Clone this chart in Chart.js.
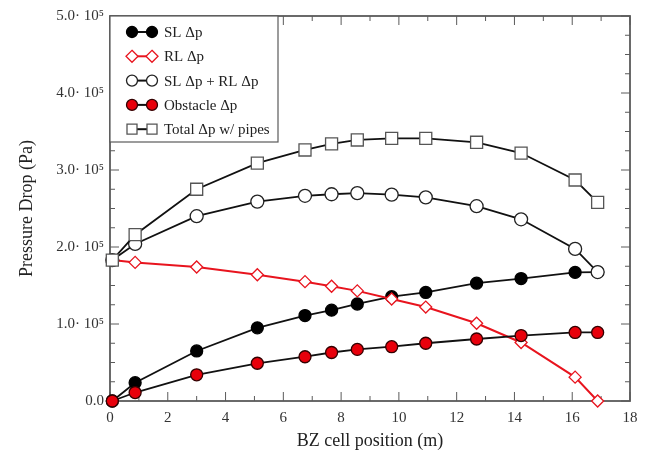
<!DOCTYPE html>
<html>
<head>
<meta charset="utf-8">
<script src="https://cdn.jsdelivr.net/npm/chart.js@4.4.0/dist/chart.umd.min.js"></script>
<style>
  html, body { margin: 0; padding: 0; background: #fff; }
  #wrap { width: 666px; height: 463px; position: relative; }
</style>
</head>
<body>
<div id="wrap"><canvas id="chart" width="666" height="463"></canvas></div>
<script>
// BZ cell positions (m) and pressure drops (Pa)
const positions  = [0.08, 0.87, 3.0, 5.1, 6.75, 7.67, 8.56, 9.75, 10.93, 12.69, 14.23, 16.1, 16.88];
const slDp       = [0, 23800, 65000, 95000, 111000, 118000, 126000, 135500, 141000, 153000, 159000, 167000, 167500];
const rlDp       = [183000, 180000, 174000, 164000, 155000, 149000, 143000, 132500, 122000, 101000, 76000, 31000, 0];
const slRlDp     = [183000, 204000, 240000, 259000, 266500, 268500, 270000, 268000, 264500, 253000, 236000, 197500, 167500];
const obstacleDp = [0, 11000, 34000, 49000, 57500, 63000, 67000, 70500, 75000, 80500, 85000, 89000, 89000];
const totalDp    = [183000, 216000, 275000, 309000, 326000, 334000, 339000, 341000, 341000, 336000, 322000, 287000, 258000];

const yTickLabels = ['0.0', '1.0\u00b7 10\u2075', '2.0\u00b7 10\u2075', '3.0\u00b7 10\u2075', '4.0\u00b7 10\u2075', '5.0\u00b7 10\u2075'];
const xTickLabels = ['0', '2', '4', '6', '8', '10', '12', '14', '16', '18'];

const serif = "'Liberation Serif', 'DejaVu Serif', serif";
const frameColor = '#5a5a5a';

const pts = arr => arr.map((v, i) => ({ x: positions[i], y: v }));

// drawn top-most first
const dsTotal = {
  label: 'Total \u0394p w/ pipes', data: pts(totalDp), pointStyle: 'rect',
  borderColor: '#111', pointBorderColor: '#555', pointBackgroundColor: '#fff', pointRadius: 8.5
};
const dsObstacle = {
  label: 'Obstacle \u0394p', data: pts(obstacleDp), pointStyle: 'circle',
  borderColor: '#111', pointBorderColor: '#300', pointBackgroundColor: '#e8000b', pointRadius: 6
};
const dsSlRl = {
  label: 'SL \u0394p + RL \u0394p', data: pts(slRlDp), pointStyle: 'circle',
  borderColor: '#111', pointBorderColor: '#222', pointBackgroundColor: '#fff', pointRadius: 6.5
};
const dsRl = {
  label: 'RL \u0394p', data: pts(rlDp), pointStyle: 'rectRot',
  borderColor: '#e8141e', pointBorderColor: '#e8141e', pointBackgroundColor: '#fff', pointRadius: 6
};
const dsSl = {
  label: 'SL \u0394p', data: pts(slDp), pointStyle: 'circle',
  borderColor: '#111', pointBorderColor: '#000', pointBackgroundColor: '#000', pointRadius: 6
};
const legendOrder = [dsSl, dsRl, dsSlRl, dsObstacle, dsTotal];

function drawMarker(ctx, ds, x, y) {
  ctx.fillStyle = ds.pointBackgroundColor;
  ctx.strokeStyle = ds.pointBorderColor;
  ctx.lineWidth = 1.3;
  ctx.beginPath();
  if (ds.pointStyle === 'circle') {
    ctx.arc(x, y, 5.5, 0, Math.PI * 2);
  } else if (ds.pointStyle === 'rect') {
    ctx.rect(x - 5, y - 5, 10, 10);
  } else {
    ctx.moveTo(x, y - 6); ctx.lineTo(x + 6, y); ctx.lineTo(x, y + 6); ctx.lineTo(x - 6, y); ctx.closePath();
  }
  ctx.fill();
  ctx.stroke();
}

const framePlugin = {
  id: 'frame',
  beforeDatasetsDraw(chart) {
    const { ctx, chartArea: a, scales: { x, y } } = chart;
    ctx.save();
    ctx.strokeStyle = frameColor;
    ctx.lineWidth = 1;
    const seg = (x1, y1, x2, y2) => { ctx.beginPath(); ctx.moveTo(x1, y1); ctx.lineTo(x2, y2); ctx.stroke(); };
    x.ticks.forEach(t => {
      const px = x.getPixelForValue(t.value);
      const len = t.value % 2 === 0 ? 9 : 5;
      seg(px, a.bottom, px, a.bottom - len);
      seg(px, a.top, px, a.top + len);
    });
    y.ticks.forEach(t => {
      const py = y.getPixelForValue(t.value);
      const len = t.value % 100000 === 0 ? 9 : 5;
      seg(a.left, py, a.left + len, py);
      seg(a.right, py, a.right - len, py);
    });
    ctx.lineWidth = 1.8;
    ctx.strokeRect(a.left, a.top, a.right - a.left, a.bottom - a.top);
    ctx.restore();
  },
  afterDraw(chart) {
    const { ctx, chartArea: a } = chart;
    const bx = a.left, by = a.top, bw = 168, bh = 126;
    ctx.save();
    ctx.fillStyle = '#fff';
    ctx.fillRect(bx, by, bw, bh);
    ctx.strokeStyle = frameColor;
    ctx.lineWidth = 1.2;
    ctx.strokeRect(bx, by, bw, bh);
    legendOrder.forEach((ds, i) => {
      const cy = by + 16 + i * 24.3;
      const x1 = bx + 22, x2 = bx + 42;
      ctx.strokeStyle = ds.borderColor;
      ctx.lineWidth = 2;
      ctx.beginPath(); ctx.moveTo(x1, cy); ctx.lineTo(x2, cy); ctx.stroke();
      drawMarker(ctx, ds, x1, cy);
      drawMarker(ctx, ds, x2, cy);
      ctx.fillStyle = '#222';
      ctx.font = '15px ' + serif;
      ctx.textBaseline = 'middle';
      ctx.fillText(ds.label, bx + 54, cy + 1);
    });
    ctx.restore();
  }
};

new Chart(document.getElementById('chart'), {
  type: 'line',
  data: {
    datasets: [dsTotal, dsObstacle, dsSlRl, dsRl, dsSl].map(ds => Object.assign({}, ds, {
      borderWidth: ds === dsRl ? 2 : 1.8,
      pointBorderWidth: 1.3,
      pointHoverRadius: ds.pointRadius,
      clip: false,
      fill: false,
      tension: 0
    }))
  },
  options: {
    responsive: false,
    animation: false,
    events: [],
    layout: { padding: { top: 16, right: 36, left: 0, bottom: 0 } },
    plugins: { legend: { display: false }, tooltip: { enabled: false } },
    scales: {
      x: {
        type: 'linear', min: 0, max: 18,
        afterFit: s => { s.height = 62; },
        grid: { display: false, drawTicks: false },
        border: { display: false },
        ticks: {
          stepSize: 1, autoSkip: false, maxRotation: 0, padding: 8,
          color: '#333', font: { family: serif, size: 15 },
          callback: v => (v % 2 === 0 ? xTickLabels[v / 2] : '')
        },
        title: {
          display: true, text: 'BZ cell position (m)', color: '#222',
          font: { family: serif, size: 18 }, padding: { top: 4, bottom: 11 }
        }
      },
      y: {
        type: 'linear', min: 0, max: 500000,
        afterFit: s => { s.width = 110; },
        grid: { display: false, drawTicks: false },
        border: { display: false },
        ticks: {
          stepSize: 25000, autoSkip: false, padding: 6,
          color: '#333', font: { family: serif, size: 15 },
          callback: v => (v % 100000 === 0 ? yTickLabels[v / 100000] : '')
        },
        title: {
          display: true, text: 'Pressure Drop (Pa)', color: '#222',
          font: { family: serif, size: 18 }, padding: { top: 16, bottom: 4 }
        }
      }
    }
  },
  plugins: [framePlugin]
});
</script>
</body>
</html>
